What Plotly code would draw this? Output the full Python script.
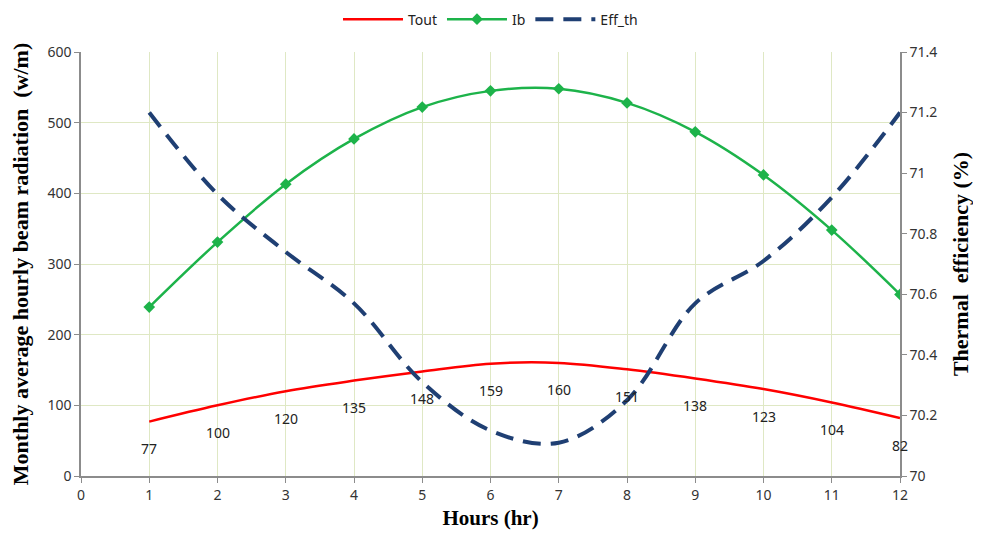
import plotly.graph_objects as go

hours = [1, 2, 3, 4, 5, 6, 7, 8, 9, 10, 11, 12]
tout = [77, 100, 120, 135, 148, 159, 160, 151, 138, 123, 104, 82]
ib = [239, 331, 413, 477, 522, 545, 548, 528, 487, 426, 348, 257]
eff_th = [71.2, 70.93, 70.74, 70.57, 70.31, 70.15, 70.11, 70.25, 70.57, 70.71, 70.92, 71.2]

x_ticks = list(range(0, 13))
left_ticks = [0, 100, 200, 300, 400, 500, 600]
right_ticks = [70, 70.2, 70.4, 70.6, 70.8, 71, 71.2, 71.4]
right_labels = ["70", "70.2", "70.4", "70.6", "70.8", "71", "71.2", "71.4"]

tick_font = dict(family="Noto Sans, DejaVu Sans, sans-serif", size=14, color="#333333")
title_font = dict(family="Liberation Serif, Times New Roman, serif", size=21, color="#000000")
ytitle_font = dict(family="Liberation Serif, Times New Roman, serif", size=22, color="#000000")
grid_col = "#dfe8c4"
axis_col = "#8c8c8c"

fig = go.Figure()
fig.add_trace(go.Scatter(x=hours, y=tout, name="Tout", mode="lines",
                         line=dict(color="#ff0000", width=2.5, shape="spline")))
fig.add_trace(go.Scatter(x=hours, y=ib, name="Ib", mode="lines+markers",
                         line=dict(color="#1db34a", width=2.5, shape="spline"),
                         marker=dict(symbol="diamond", size=9, color="#1db34a")))
fig.add_trace(go.Scatter(x=hours, y=eff_th, name="Eff_th", mode="lines", yaxis="y2",
                         line=dict(color="#1f3f73", width=4, shape="spline", dash="18px,10px")))

for h, t in zip(hours, tout):
    fig.add_annotation(x=h, y=t, text=str(t), showarrow=False, yshift=-27,
                       font=dict(family="Noto Sans, DejaVu Sans, sans-serif", size=14, color="#222222"))

fig.update_layout(
    width=965, height=526,
    margin=dict(l=73, r=73, t=44, b=58),
    plot_bgcolor="white", paper_bgcolor="white",
    showlegend=True,
    legend=dict(orientation="h", x=0.5, xanchor="center", y=0.978, yanchor="middle",
                yref="container",
                font=dict(family="Noto Sans, DejaVu Sans, sans-serif", size=14, color="#222222"),
                itemwidth=60, tracegroupgap=20),
    xaxis=dict(range=[0, 12], tickvals=x_ticks, showgrid=True, gridcolor=grid_col,
               showline=True, linecolor=axis_col, linewidth=1.5, ticks="outside",
               tickcolor=axis_col, ticklen=5, tickfont=tick_font, zeroline=False,
               automargin=False,
               title=dict(text="<b>Hours (hr)</b>", font=title_font, standoff=8)),
    yaxis=dict(range=[0, 600], tickvals=left_ticks, showgrid=True, gridcolor=grid_col,
               showline=True, linecolor=axis_col, linewidth=1.5, ticks="outside",
               tickcolor=axis_col, ticklen=5, tickfont=tick_font, zeroline=False,
               automargin=False,
               title=dict(text="<b>Monthly average hourly beam radiation  (w/m)</b>",
                          font=ytitle_font, standoff=14)),
    yaxis2=dict(range=[70, 71.4], tickvals=right_ticks, ticktext=right_labels,
                overlaying="y", side="right", showgrid=False,
                showline=True, linecolor=axis_col, linewidth=1.5, ticks="outside",
                tickcolor=axis_col, ticklen=5, tickfont=tick_font, zeroline=False,
                automargin=False,
                title=dict(text="<b>Thermal  efficiency (%)</b>", font=ytitle_font, standoff=20)),
)

fig.write_html("out.html")
